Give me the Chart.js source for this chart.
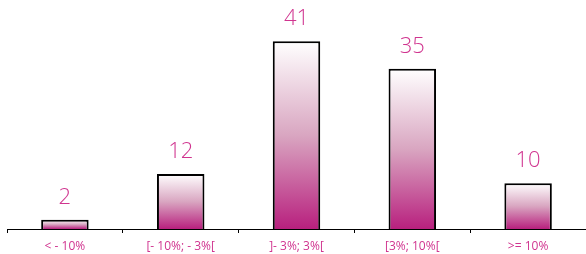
<!DOCTYPE html>
<html>
<head>
<meta charset="utf-8">
<script src="https://cdn.jsdelivr.net/npm/chart.js@4/dist/chart.umd.min.js"></script>
<style>
html,body{margin:0;padding:0;background:#fff;}
#wrap{width:586px;height:254px;}
</style>
</head>
<body>
<div id="wrap"><canvas id="grafico"></canvas></div>
<script>
const categorias = ["< - 10%", "[- 10%; - 3%[", "]- 3%; 3%[", "[3%; 10%[", ">= 10%"];
const valores = [2, 12, 41, 35, 10];

const rosa = "#d0348f";

const etiquetasValor = {
id: "etiquetasValor",
afterDatasetsDraw(chart){
const ctx = chart.ctx;
const meta = chart.getDatasetMeta(0);
ctx.save();
ctx.fillStyle = rosa;
ctx.font = "300 22px 'Open Sans', 'DejaVu Sans', sans-serif";
ctx.textAlign = "center";
ctx.textBaseline = "middle";
meta.data.forEach((barra, i) => {
ctx.fillText(valores[i], barra.x, barra.y - 22);
});
ctx.restore();
}
};

function degradado(context){
const chart = context.chart;
const area = chart.chartArea;
if(!area || context.dataIndex === undefined) return "#b8207e";
const y = chart.scales.y;
const arriba = y.getPixelForValue(valores[context.dataIndex]);
const abajo = y.getPixelForValue(0);
const g = chart.ctx.createLinearGradient(0, arriba, 0, abajo);
g.addColorStop(0, "#ffffff");
g.addColorStop(0.5, "#d9a6c1");
g.addColorStop(1, "#b8207e");
return g;
}

new Chart(document.getElementById("grafico"), {
type: "bar",
data: {
labels: categorias,
datasets: [{
data: valores,
backgroundColor: degradado,
borderColor: "#000000",
borderWidth: 2,
borderSkipped: "bottom",
categoryPercentage: 0.41,
barPercentage: 1
}]
},
options: {
responsive: true,
maintainAspectRatio: false,
animation: false,
layout: { padding: { left: 7, right: 0, top: 0, bottom: 0 } },
plugins: {
legend: { display: false },
tooltip: { enabled: false }
},
scales: {
x: {
afterFit: (escala) => { escala.height = 25; },
grid: {
offset: true,
drawOnChartArea: false,
drawTicks: true,
tickLength: 4,
color: "#000000"
},
border: { color: "#000000", width: 1 },
ticks: {
color: rosa,
font: { family: "'Open Sans', 'DejaVu Sans', sans-serif", size: 12 },
padding: 6,
maxRotation: 0,
autoSkip: false
}
},
y: {
display: false,
min: 0,
max: 50
}
}
},
plugins: [etiquetasValor]
});
</script>
</body>
</html>
